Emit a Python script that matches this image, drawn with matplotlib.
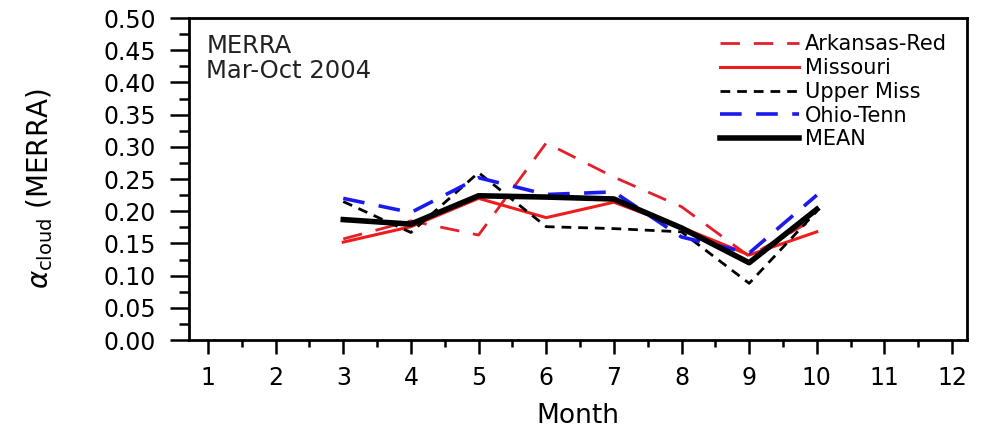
import matplotlib
matplotlib.use('Agg')
import matplotlib.pyplot as plt
from matplotlib.ticker import MultipleLocator

plt.rcParams['font.family'] = ['DejaVu Sans']
plt.rcParams['mathtext.fontset'] = 'dejavusans'

# data: months and cloud albedo per basin
months = [3, 4, 5, 6, 7, 8, 9, 10]
arkansas_red = [0.157, 0.185, 0.163, 0.306, 0.253, 0.207, 0.130, 0.190]
missouri = [0.152, 0.176, 0.220, 0.190, 0.214, 0.175, 0.132, 0.168]
upper_miss = [0.215, 0.167, 0.260, 0.176, 0.173, 0.168, 0.088, 0.200]
ohio_tenn = [0.220, 0.198, 0.252, 0.226, 0.230, 0.160, 0.135, 0.225]
mean = [0.187, 0.180, 0.224, 0.222, 0.219, 0.174, 0.120, 0.203]

fig = plt.figure(figsize=(9.82, 4.30), dpi=100)
ax = fig.add_axes([0.1925, 0.2093, 0.7922, 0.7487])

ax.plot(months, arkansas_red, color='#e0202a', lw=2.0, dashes=(7, 5), label='Arkansas-Red')
ax.plot(months, missouri, color='#ee1c1c', lw=2.2, label='Missouri')
ax.plot(months, upper_miss, color='black', lw=2.0, dashes=(3.5, 2.5), label='Upper Miss')
ax.plot(months, ohio_tenn, color='#1a1aee', lw=2.6, dashes=(6, 4), label='Ohio-Tenn')
ax.plot(months, mean, color='black', lw=4.0, label='MEAN')

ax.set_xlim(0.72, 12.22)
ax.set_ylim(0, 0.5)
ax.xaxis.set_major_locator(MultipleLocator(1))
ax.xaxis.set_minor_locator(MultipleLocator(0.5))
ax.yaxis.set_major_locator(MultipleLocator(0.05))
ax.yaxis.set_minor_locator(MultipleLocator(0.025))
ax.yaxis.set_major_formatter(plt.FormatStrFormatter('%.2f'))

for s in ax.spines.values():
    s.set_linewidth(2.0)
ax.tick_params(axis='y', which='major', direction='out', length=14, width=1.8, labelsize=17, pad=10)
ax.tick_params(axis='y', which='minor', direction='out', length=7, width=1.8)
ax.tick_params(axis='x', which='major', direction='out', length=10, width=1.8, labelsize=17, pad=9)
ax.tick_params(axis='x', which='minor', direction='out', length=5, width=1.8)

ax.set_xlabel('Month', fontsize=19, labelpad=9)
ax.set_ylabel(r'$\alpha_{\mathrm{cloud}}$ (MERRA)', fontsize=20)
ax.yaxis.set_label_coords(-0.172, 0.47)

ax.text(0.022, 0.95, 'MERRA\nMar-Oct 2004', transform=ax.transAxes, fontsize=17.5,
        va='top', ha='left', linespacing=1.05, color='#222222')

leg = ax.legend(loc='upper right', bbox_to_anchor=(0.985, 0.975), frameon=False, fontsize=15,
                handlelength=3.8, handletextpad=0.3, labelspacing=0.18, borderaxespad=0.0)

fig.savefig('out.png', dpi=100)
